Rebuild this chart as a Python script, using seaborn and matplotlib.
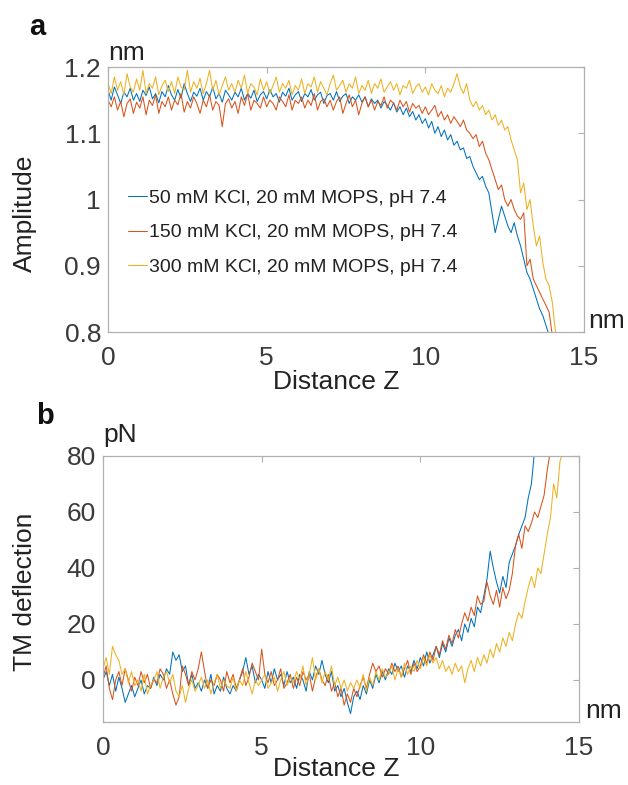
import numpy as np
import pandas as pd
import matplotlib
matplotlib.use("Agg")
import matplotlib.pyplot as plt
import seaborn as sns

# ---------------- data ----------------
step = 0.1  # nm sampling of the read-off values

labels = ["50 mM KCl, 20 mM MOPS, pH 7.4",
          "150 mM KCl, 20 mM MOPS, pH 7.4",
          "300 mM KCl, 20 mM MOPS, pH 7.4"]
colors = ["#0072BD", "#D95319", "#EDB120"]

amp_50 = [
    1.165, 1.150, 1.170, 1.158, 1.145, 1.162, 1.155, 1.168, 1.150, 1.160,
    1.148, 1.165, 1.157, 1.170, 1.152, 1.160, 1.146, 1.163, 1.155, 1.172,
    1.158, 1.150, 1.166, 1.153, 1.175, 1.160, 1.148, 1.162, 1.156, 1.168,
    1.150, 1.163, 1.155, 1.170, 1.152, 1.160, 1.147, 1.165, 1.158, 1.150,
    1.162, 1.155, 1.168, 1.150, 1.160, 1.153, 1.165, 1.148, 1.158, 1.163,
    1.152, 1.166, 1.155, 1.160, 1.147, 1.162, 1.156, 1.168, 1.150, 1.158,
    1.163, 1.148, 1.160, 1.155, 1.166, 1.150, 1.158, 1.162, 1.145, 1.157,
    1.160, 1.150, 1.163, 1.148, 1.156, 1.160, 1.145, 1.155, 1.150, 1.158,
    1.147, 1.155, 1.140, 1.152, 1.145, 1.150, 1.138, 1.148, 1.142, 1.135,
    1.146, 1.132, 1.140, 1.128, 1.138, 1.125, 1.133, 1.120, 1.128, 1.115,
    1.122, 1.108, 1.118, 1.100, 1.110, 1.095, 1.105, 1.090, 1.098, 1.082,
    1.088, 1.075, 1.078, 1.062, 1.065, 1.050, 1.040, 1.030, 1.035, 1.020,
    1.010, 0.980, 0.950, 0.970, 0.990, 0.975, 0.960, 0.950, 0.965, 0.945,
    0.930, 0.910, 0.890, 0.880, 0.865, 0.850, 0.835, 0.825, 0.810, 0.795,
]
amp_150 = [
    1.150, 1.140, 1.155, 1.135, 1.148, 1.125, 1.145, 1.152, 1.130, 1.147,
    1.138, 1.155, 1.128, 1.150, 1.142, 1.158, 1.130, 1.148, 1.140, 1.155,
    1.135, 1.150, 1.143, 1.160, 1.132, 1.148, 1.138, 1.155, 1.145, 1.130,
    1.150, 1.140, 1.158, 1.135, 1.148, 1.142, 1.110, 1.145, 1.152, 1.138,
    1.148, 1.130, 1.155, 1.142, 1.160, 1.135, 1.150, 1.145, 1.138, 1.155,
    1.140, 1.150, 1.145, 1.135, 1.155, 1.148, 1.140, 1.158, 1.135, 1.150,
    1.145, 1.155, 1.138, 1.150, 1.142, 1.160, 1.135, 1.148, 1.152, 1.140,
    1.150, 1.135, 1.148, 1.155, 1.130, 1.145, 1.158, 1.140, 1.150, 1.128,
    1.145, 1.155, 1.140, 1.150, 1.135, 1.148, 1.142, 1.155, 1.138, 1.150,
    1.145, 1.135, 1.150, 1.140, 1.148, 1.132, 1.145, 1.138, 1.142, 1.130,
    1.140, 1.128, 1.135, 1.142, 1.125, 1.133, 1.120, 1.128, 1.115, 1.125,
    1.118, 1.110, 1.120, 1.105, 1.100, 1.092, 1.098, 1.080, 1.088, 1.070,
    1.060, 1.045, 1.030, 1.015, 1.022, 1.000, 0.990, 1.000, 0.985, 0.975,
    0.970, 0.980, 0.900, 0.910, 0.880, 0.870, 0.860, 0.850, 0.840, 0.830,
    0.795,
]
amp_300 = [
    1.175, 1.160, 1.185, 1.165, 1.178, 1.158, 1.190, 1.170, 1.162, 1.182,
    1.165, 1.195, 1.160, 1.175, 1.168, 1.185, 1.158, 1.172, 1.180, 1.163,
    1.178, 1.160, 1.185, 1.170, 1.165, 1.195, 1.162, 1.178, 1.168, 1.183,
    1.160, 1.175, 1.195, 1.165, 1.180, 1.158, 1.172, 1.185, 1.165, 1.175,
    1.162, 1.180, 1.168, 1.188, 1.160, 1.175, 1.170, 1.158, 1.182, 1.165,
    1.178, 1.160, 1.172, 1.185, 1.162, 1.175, 1.168, 1.180, 1.158, 1.172,
    1.165, 1.182, 1.160, 1.175, 1.170, 1.185, 1.162, 1.178, 1.168, 1.158,
    1.175, 1.188, 1.165, 1.172, 1.180, 1.162, 1.175, 1.168, 1.185, 1.160,
    1.172, 1.165, 1.180, 1.160, 1.175, 1.168, 1.182, 1.162, 1.170, 1.178,
    1.165, 1.175, 1.158, 1.172, 1.168, 1.180, 1.160, 1.170, 1.175, 1.162,
    1.170, 1.158, 1.175, 1.165, 1.160, 1.172, 1.155, 1.168, 1.162, 1.175,
    1.190, 1.170, 1.160, 1.175, 1.150, 1.140, 1.148, 1.135, 1.142, 1.128,
    1.135, 1.120, 1.128, 1.112, 1.120, 1.105, 1.110, 1.090, 1.075, 1.060,
    1.010, 1.025, 0.985, 1.000, 0.960, 0.930, 0.945, 0.905, 0.880, 0.870,
    0.845, 0.800,
]

defl_50 = [
    0, 3, -2, 2, -4, 1, -3, -8, -5, -2,
    -6, -3, 0, -5, -2, -3, 1, -2, 2, 0,
    4, 2, 10, 7, 9, 3, 5, -2, 2, -3,
    -1, -4, 0, -3, 2, -5, -2, -4, 1, -3,
    -5, -2, -4, 0, 3, 8, 2, 5, -1, 2,
    0, -3, 3, -1, 4, 0, 2, -2, 3, -1,
    1, -3, 2, 0, -4, 3, 0, 5, 2, 7,
    2, -1, 3, -4, -2, -6, -3, -8, -12, -6,
    -4, -7, -2, -5, 0, -3, 2, -1, 3, 0,
    4, 2, 6, 3, 5, 1, 5, 3, 7, 4,
    8, 5, 10, 6, 9, 12, 8, 13, 10, 15,
    12, 16, 18, 14, 20, 17, 22, 19, 26, 24,
    30, 36, 46, 40, 35, 31, 37, 33, 42, 45,
    48, 52, 55, 58, 65, 70, 82,
]
defl_150 = [
    1, 5, -3, -7, 0, 3, -2, 4, 0, -4,
    1, -2, 3, -1, 2, -3, 0, -1, 4, 2,
    -3, 0, -5, -9, -6, 5, 2, -2, 3, 0,
    4, 10, 3, -3, 0, -2, 2, 0, -4, 3,
    -1, 2, -3, 0, 4, -2, 1, 6, 3, 0,
    11, 2, -1, 3, -2, 0, 4, -3, -1, 2,
    -3, 1, -2, 3, 0, 2, -4, 1, 4, 0,
    -2, 2, -4, -1, -6, -3, -9, -5, -8, -3,
    -6, -2, 1, -3, 2, 6, 3, 5, 1, 4,
    2, 6, 3, 5, 1, 4, 7, 2, 6, 3,
    5, 9, 6, 10, 7, 12, 9, 14, 11, 16,
    13, 18, 15, 20, 24, 21, 26, 23, 30, 27,
    28, 35, 30, 27, 32, 26, 33, 29, 32, 38,
    48, 52, 47, 55, 53, 56, 60, 58, 62, 66,
    75, 82,
]
defl_300 = [
    4, 8, 2, 12, 9, 7, 2, 4, -1, 3,
    -2, 0, -4, 2, -5, -2, 0, 3, -3, 1,
    3, -1, 2, -4, -6, -2, -8, -3, 0, -4,
    -2, 1, -3, 0, -5, -1, 2, -3, 0, -2,
    -3, 1, -4, 0, -2, 3, -1, -5, 0, -2,
    0, 2, -3, -1, 1, -4, 0, 3, -2, 1,
    -1, 3, 0, 5, -2, 2, 8, 0, 4, -1,
    3, 0, 5, -2, 1, -3, 0, -4, -1, -3,
    0, -3, 2, -4, 1, -2, 3, 0, 4, 1,
    2, 5, 0, 4, 1, 6, 2, 5, 3, 7,
    4, 8, 5, 9, 6, 8, 4, 7, 3, 5,
    2, 6, 3, 5, -1, 4, 7, 3, 8, 5,
    9, 6, 11, 8, 13, 10, 15, 12, 17, 14,
    20, 24, 22, 28, 33, 37, 33, 40, 38, 45,
    52, 58, 70, 65, 78, 82,
]

x_ticks = [0, 5, 10, 15]
amp_ticks = [0.8, 0.9, 1.0, 1.1, 1.2]
amp_ticklabels = ["0.8", "0.9", "1", "1.1", "1.2"]
defl_ticks = [0, 20, 40, 60, 80]
defl_ticklabels = ["0", "20", "40", "60", "80"]


def to_frame(series_list):
    frames = []
    for lab, vals in zip(labels, series_list):
        z = np.arange(len(vals)) * step
        frames.append(pd.DataFrame({"z": z, "v": vals, "cond": lab}))
    return frames


# ---------------- style ----------------
sns.set_style("white")
plt.rcParams["font.family"] = ["Liberation Sans", "DejaVu Sans"]
plt.rcParams["axes.linewidth"] = 0.9

TICK_C = "#3a3a3a"
LAB_C = "#222222"
SPINE_C = "#b0b0b0"
FS_TICK = 19
FS_LEG = 14
LW = 0.75

fig = plt.figure(figsize=(6.28, 7.85), dpi=100)
ax_a = fig.add_axes([0.172, 0.577, 0.758, 0.3376])
ax_b = fig.add_axes([0.164, 0.0803, 0.758, 0.3389])


def style_axes(ax):
    for s in ax.spines.values():
        s.set_color(SPINE_C)
        s.set_linewidth(0.9)
        s.set_visible(True)
    ax.tick_params(direction="in", length=4, width=0.8, color=SPINE_C,
                   top=True, right=True, labelsize=FS_TICK,
                   labelcolor=TICK_C)
    ax.tick_params(axis="x", pad=10)
    ax.tick_params(axis="y", pad=5)
    ax.set_facecolor("white")


# ---------------- panel a ----------------
for df, c in zip(to_frame([amp_50, amp_150, amp_300]), colors):
    sns.lineplot(data=df, x="z", y="v", ax=ax_a, color=c, linewidth=LW,
                 label=df["cond"].iloc[0], estimator=None, sort=False)
ax_a.set_xlim(0, 15)
ax_a.set_ylim(0.8, 1.2)
ax_a.set_xticks(x_ticks)
ax_a.set_yticks(amp_ticks)
ax_a.set_yticklabels(amp_ticklabels)
style_axes(ax_a)
ax_a.set_xlabel("Distance Z", fontsize=FS_TICK, color=LAB_C)
ax_a.set_ylabel("Amplitude", fontsize=FS_TICK, color=LAB_C)
ax_a.xaxis.set_label_coords(0.479, -0.143)
ax_a.yaxis.set_label_coords(-0.149, 0.449)
leg = ax_a.legend(loc="center left", bbox_to_anchor=(0.042, 0.375),
                  frameon=False, fontsize=FS_LEG, handlelength=1.0,
                  handletextpad=0.1, labelspacing=0.88, borderpad=0,
                  borderaxespad=0)
for t in leg.get_texts():
    t.set_color(LAB_C)
for h in leg.legend_handles:
    h.set_linewidth(LW)
ax_a.text(0.0, 1.026, "nm", transform=ax_a.transAxes, fontsize=FS_TICK,
          color=LAB_C, ha="left", va="baseline")
ax_a.text(1.008, 0.015, "nm", transform=ax_a.transAxes, fontsize=FS_TICK,
          color=LAB_C, ha="left", va="baseline")

# ---------------- panel b ----------------
for df, c in zip(to_frame([defl_50, defl_150, defl_300]), colors):
    sns.lineplot(data=df, x="z", y="v", ax=ax_b, color=c, linewidth=LW,
                 legend=False, estimator=None, sort=False)
ax_b.set_xlim(0, 15)
ax_b.set_ylim(-15, 80)
ax_b.set_xticks(x_ticks)
ax_b.set_yticks(defl_ticks)
ax_b.set_yticklabels(defl_ticklabels)
style_axes(ax_b)
ax_b.set_xlabel("Distance Z", fontsize=FS_TICK, color=LAB_C)
ax_b.set_ylabel("TM deflection", fontsize=FS_TICK, color=LAB_C)
ax_b.xaxis.set_label_coords(0.489, -0.132)
ax_b.yaxis.set_label_coords(-0.139, 0.489)
ax_b.text(0.0, 1.053, "pN", transform=ax_b.transAxes, fontsize=FS_TICK,
          color=LAB_C, ha="left", va="baseline")
ax_b.text(1.013, 0.015, "nm", transform=ax_b.transAxes, fontsize=FS_TICK,
          color=LAB_C, ha="left", va="baseline")

# panel letters
fig.text(0.059, 0.965, "a", fontsize=21, fontweight="bold", color="#111111",
         ha="center", va="center")
fig.text(0.0717, 0.470, "b", fontsize=21, fontweight="bold", color="#111111",
         ha="center", va="center")

fig.savefig("out.png", dpi=100)
